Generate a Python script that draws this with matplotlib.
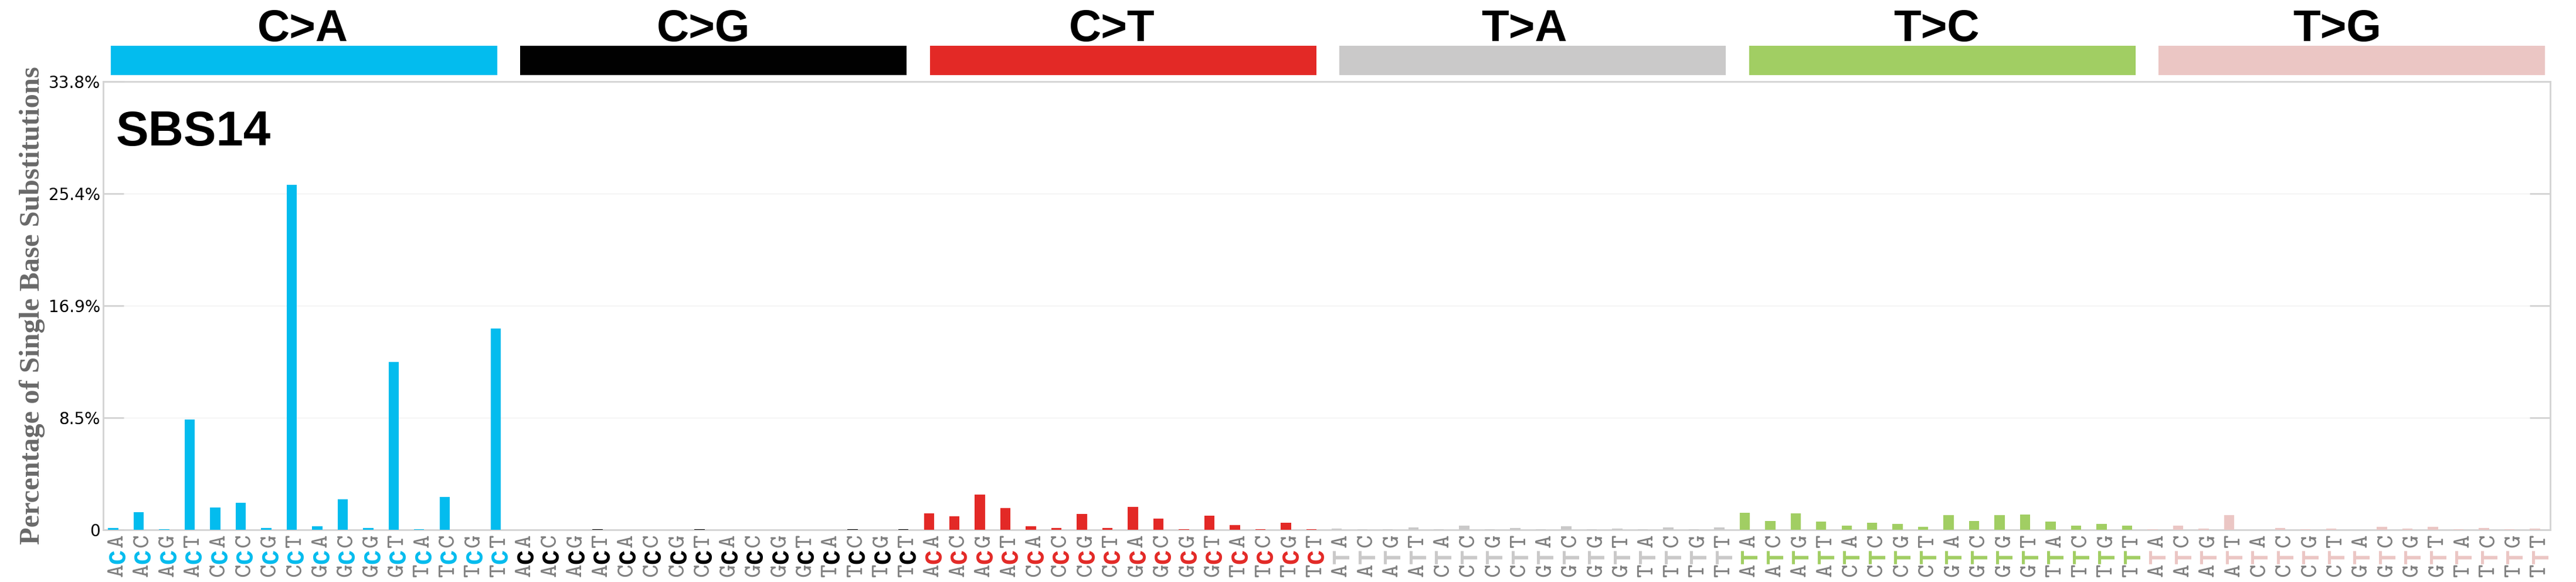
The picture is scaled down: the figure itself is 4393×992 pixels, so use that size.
import matplotlib
matplotlib.use("Agg")
import matplotlib.pyplot as plt
import numpy as np

sample_name = "SBS14"
mutation_types = ["C>A", "C>G", "C>T", "T>A", "T>C", "T>G"]
contexts_C = ["ACA", "ACC", "ACG", "ACT", "CCA", "CCC", "CCG", "CCT",
              "GCA", "GCC", "GCG", "GCT", "TCA", "TCC", "TCG", "TCT"]
contexts_T = ["ATA", "ATC", "ATG", "ATT", "CTA", "CTC", "CTG", "CTT",
              "GTA", "GTC", "GTG", "GTT", "TTA", "TTC", "TTG", "TTT"]

# percentages per mutation type (16 contexts each)
vals_CA = [0.14, 1.32, 0.05, 8.29, 1.65, 2.02, 0.14, 26.0,
           0.25, 2.27, 0.14, 12.63, 0.05, 2.46, 0.0, 15.15]
vals_CG = [0.0, 0.0, 0.0, 0.03, 0.0, 0.0, 0.0, 0.03,
           0.0, 0.0, 0.0, 0.0, 0.0, 0.03, 0.0, 0.03]
vals_CT = [1.24, 1.02, 2.65, 1.64, 0.27, 0.13, 1.19, 0.13,
           1.73, 0.84, 0.01, 1.06, 0.35, 0.04, 0.53, 0.04]
vals_TA = [0.09, 0.03, 0.03, 0.18, 0.03, 0.31, 0.03, 0.13,
           0.01, 0.27, 0.03, 0.09, 0.03, 0.18, 0.03, 0.18]
vals_TC = [1.28, 0.66, 1.24, 0.62, 0.31, 0.53, 0.44, 0.22,
           1.11, 0.66, 1.11, 1.15, 0.62, 0.31, 0.44, 0.31]
vals_TG = [0.03, 0.31, 0.09, 1.11, 0.0, 0.13, 0.03, 0.09,
           0.0, 0.22, 0.09, 0.22, 0.03, 0.13, 0.03, 0.09]

y_tick_values = [0, 8.45, 16.9, 25.35, 33.8]
y_tick_labels = ["0", "8.5%", "16.9%", "25.4%", "33.8%"]
y_max = 33.8

colors = [[3/256, 189/256, 239/256], [1/256, 1/256, 1/256], [228/256, 41/256, 38/256],
          [203/256, 202/256, 202/256], [162/256, 207/256, 99/256], [236/256, 199/256, 197/256]]

all_vals = [vals_CA, vals_CG, vals_CT, vals_TA, vals_TC, vals_TG]
all_ctx = [contexts_C, contexts_C, contexts_C, contexts_T, contexts_T, contexts_T]

fig = plt.figure(figsize=(43.93, 9.92), dpi=100)
plt.rc('axes', edgecolor='lightgray')
ax = plt.axes([0.04, 0.09, 0.95, 0.77])
for sp in ax.spines.values():
    sp.set_edgecolor('lightgray')
    sp.set_linewidth(2)

xlabels = []
xlabel_colors = []
x = 0.4
for m, (vals, ctx) in enumerate(zip(all_vals, all_ctx)):
    for v, c in zip(vals, ctx):
        ax.bar(x, v, width=0.4, color=colors[m], align='center', zorder=1000)
        xlabels.append(c)
        xlabel_colors.append(colors[m])
        x += 1

# top category rectangles and titles
rx = 0.043
title_x = [0.1, 0.255, 0.415, 0.575, 0.735, 0.89]
for i in range(6):
    ax.add_patch(plt.Rectangle((rx, 0.871), 0.15, 0.05, facecolor=colors[i],
                               clip_on=False, transform=fig.transFigure))
    rx += 0.159
    fig.text(title_x[i], 0.929, mutation_types[i], fontsize=55, fontweight='bold',
             family='Liberation Sans', transform=fig.transFigure)

ax.set_xlim([0, 96])
ax.set_ylim([0, y_max])
ax.set_xticks(np.arange(0.375, 96.375, 1))
ax.set_yticks(y_tick_values)
ax.set_yticklabels(y_tick_labels, fontsize=20, family='DejaVu Sans')

ctx_font = ['cmtt10', 'Liberation Mono']
for i in range(96):
    fig.text(i/101 + .0415, .02, xlabels[i][0], fontsize=31, color='gray', rotation='vertical',
             verticalalignment='center', family=ctx_font)
    fig.text(i/101 + .0415, .044, xlabels[i][1], fontsize=30, color=xlabel_colors[i], rotation='vertical',
             verticalalignment='center', family='Liberation Mono', fontweight='bold')
    fig.text(i/101 + .0415, .071, xlabels[i][2], fontsize=31, color='gray', rotation='vertical',
             verticalalignment='center', family=ctx_font)

fig.text(0.045, 0.75, sample_name, fontsize=60, weight='bold', color='black', family='Liberation Sans')

ax.yaxis.grid(True)
ax.grid(which='major', axis='y', color=[0.93, 0.93, 0.93], zorder=1)
ax.set_axisbelow(True)
ax.set_ylabel("Percentage of Single Base Substitutions", fontsize=35,
              family='Liberation Serif', weight='bold', color='dimgray')

ax.tick_params(axis='both', which='both', bottom=False, labelbottom=False,
               left=True, labelleft=True, right=True, labelright=False,
               top=False, labeltop=False, direction='in', length=25,
               colors='lightgray', width=2)
for t in ax.get_yticklabels():
    t.set_color('black')

fig.savefig("out.png", dpi=100)
